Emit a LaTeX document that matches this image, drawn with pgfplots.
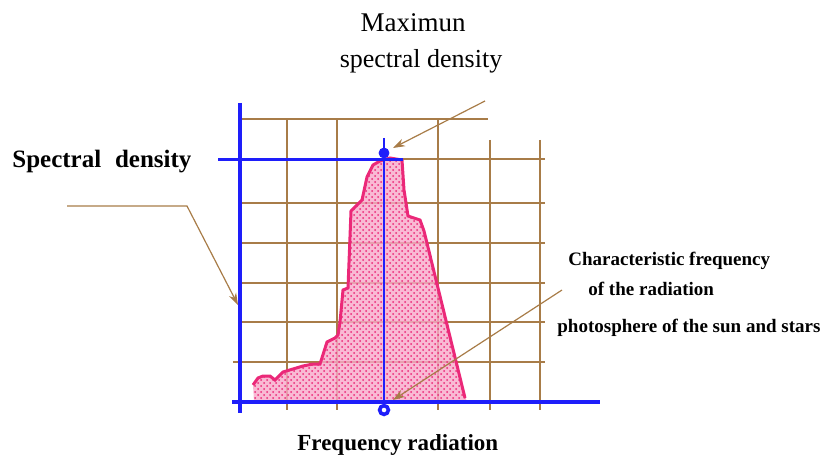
\documentclass[border=0pt]{standalone}
\usepackage{pgfplots}
\pgfplotsset{compat=1.18}
\usepackage{fontspec}
\setmainfont{Liberation Serif}
\usetikzlibrary{arrows.meta,patterns}

\definecolor{gridbrown}{RGB}{168,124,72}
\definecolor{axblue}{RGB}{30,30,250}
\definecolor{pinkline}{RGB}{235,40,120}

% spectrum outline, picture units (1 unit = 1 px of the sketch)
\pgfplotstableread{
x y
253 76
258 83
263 85
270 85
275 81
283 89
303 95
313 97
320 97
327 119
335 123
338 126
340 139
343 171
348 173
351 250
356 255
362 261
367 284
373 296
380 300
390 303
402 301
404 271
408 245
420 241
424 230
465 63
}\spectrum

\pgfplotstableread{
x y
253 76
258 83
263 85
270 85
275 81
283 89
303 95
313 97
320 97
327 119
335 123
338 126
340 139
343 171
348 173
351 250
356 255
362 261
367 284
373 296
380 300
390 303
402 301
404 271
408 245
420 241
424 230
465 63
468 59
254 59
}\spectrumarea

\begin{document}
\begin{tikzpicture}
\begin{axis}[
    width=419pt, height=230.5pt, scale only axis,
    xmin=0, xmax=838, ymin=0, ymax=461,
    hide axis, clip=false,
    unbounded coords=jump,
]
\path (axis cs:0,0) rectangle (axis cs:838,461);

% brown grid
\addplot[gridbrown, line width=0.8pt] coordinates {
    (240,342) (488,342) (nan,nan)
    (240,302) (545,302) (nan,nan)
    (240,258) (545,258) (nan,nan)
    (240,218) (545,218) (nan,nan)
    (240,178) (545,178) (nan,nan)
    (240,139) (545,139) (nan,nan)
    (233,99) (545,99) (nan,nan)
    (287,342) (287,51) (nan,nan)
    (337,342) (337,51) (nan,nan)
    (438,342) (438,51) (nan,nan)
    (490,321) (490,51) (nan,nan)
    (540,321) (540,51)
};

% spectrum
\addplot[draw=none, fill=pinkline!40, fill opacity=0.8] table {\spectrumarea};
\addplot[draw=none, pattern=crosshatch dots, pattern color=pinkline] table {\spectrumarea};
\addplot[pinkline, line width=1.5pt] table {\spectrum};

% blue axes and markers
\addplot[axblue, line width=2pt] coordinates {(240,358) (240,48)};
\addplot[axblue, line width=2pt] coordinates {(232,59) (600,59)};
\addplot[axblue, line width=1.5pt] coordinates {(218,302) (403,302)};
\addplot[axblue, line width=1pt] coordinates {(384,323) (384,54)};
\addplot[axblue, only marks, mark=*, mark size=2.5pt] coordinates {(384,308)};
\addplot[axblue, only marks, mark=o, mark size=2.2pt, line width=1.8pt] coordinates {(384,51)};

% pointer arrows
\addplot[gridbrown, line width=0.6pt, -{Stealth[length=6pt,width=4pt]}] coordinates {(67,255) (187,255) (238,156)};
\addplot[gridbrown, line width=0.6pt, -{Stealth[length=6pt,width=4pt]}] coordinates {(485,360) (393,313)};
\addplot[gridbrown, line width=0.6pt, -{Stealth[length=6pt,width=4pt]}] coordinates {(562,171) (393,61)};

% labels
\node[anchor=base, inner sep=0, font=\fontsize{13.5}{15}\selectfont] at (axis cs:413,429) {Maximun};
\node[anchor=base, inner sep=0, font=\fontsize{13}{15}\selectfont] at (axis cs:421,393) {spectral density};
\node[anchor=base west, inner sep=0, font=\bfseries\fontsize{12.5}{14}\selectfont] at (axis cs:12,293) {Spectral\hspace{0.3em} density};
\node[anchor=base west, inner sep=0, font=\bfseries\fontsize{11.5}{13}\selectfont] at (axis cs:297,11) {Frequency radiation};
\node[anchor=base west, inner sep=0, font=\bfseries\fontsize{9.5}{11}\selectfont] at (axis cs:568,196) {Characteristic frequency};
\node[anchor=base west, inner sep=0, font=\bfseries\fontsize{9.5}{11}\selectfont] at (axis cs:588,166) {of the radiation};
\node[anchor=base west, inner sep=0, font=\bfseries\fontsize{9.5}{11}\selectfont] at (axis cs:557,129) {photosphere of the sun and stars};
\end{axis}
\end{tikzpicture}
\end{document}
